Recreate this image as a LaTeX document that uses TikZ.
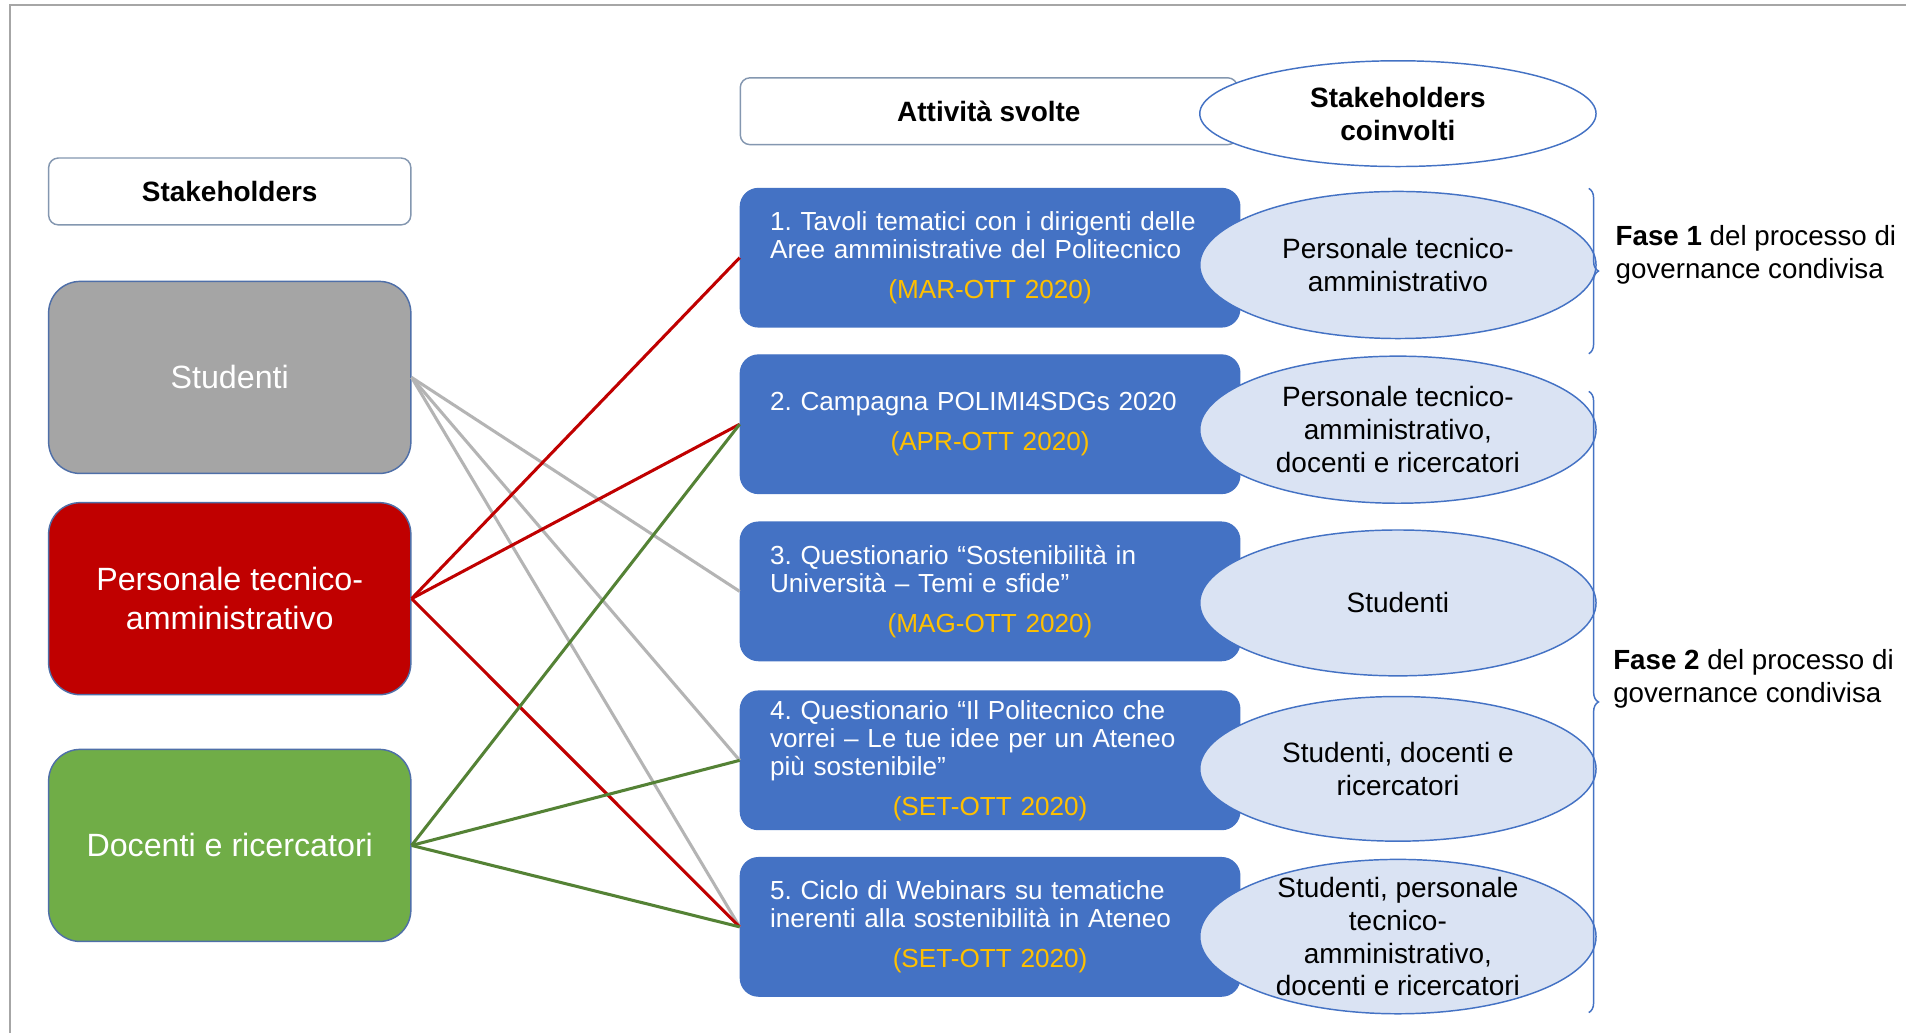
\documentclass[tikz,border=0pt]{standalone}
\usepackage{fontspec}
\setmainfont{Liberation Sans}
\usetikzlibrary{shapes.geometric,decorations.pathreplacing}
\frenchspacing
\definecolor{framec}{HTML}{A6A6A6}
\definecolor{hdrc}{HTML}{8497B0}
\definecolor{sbord}{HTML}{4F6FA8}
\definecolor{greyfill}{HTML}{A5A5A5}
\definecolor{redfill}{HTML}{C00000}
\definecolor{greenfill}{HTML}{70AD47}
\definecolor{boxblue}{HTML}{4472C4}
\definecolor{ellc}{HTML}{4472C4}
\definecolor{ellf}{HTML}{DAE3F3}
\definecolor{dategold}{HTML}{FFC000}
\definecolor{greyline}{HTML}{B4B4B4}
\definecolor{redline}{HTML}{C00000}
\definecolor{greenline}{HTML}{548235}
\begin{document}
\begin{tikzpicture}[x=1pt,y=-1pt,
  hdr/.style={draw=hdrc, line width=1.2pt, fill=white, rounded corners=8pt, inner sep=0pt,
    font=\bfseries\fontsize{23}{27}\selectfont},
  sbox/.style={draw=sbord, line width=1.2pt, rounded corners=26pt, minimum width=298pt,
    minimum height=158pt, inner sep=0pt, text=white, align=center,
    font=\fontsize{26.5}{32}\selectfont},
  abox/.style={fill=boxblue, draw=boxblue, line width=1pt, rounded corners=15pt,
    minimum width=411pt, minimum height=114pt, inner sep=0pt},
  atext/.style={text=white, text width=362pt, align=left, inner sep=0pt,
    font=\fontsize{21.5}{23}\selectfont},
  ellip/.style={ellipse, draw=ellc, fill=ellf, line width=1.2pt, minimum width=326pt,
    inner sep=0pt},
  etext/.style={align=center, inner sep=0pt, font=\fontsize{23}{27}\selectfont},
  ftext/.style={anchor=west, align=left, inner sep=0pt, font=\fontsize{22.8}{27}\selectfont},
  link/.style={line width=2.5pt},
  brc/.style={draw=ellc, line width=1.2pt, decorate, decoration={brace, amplitude=8pt}}
]
\useasboundingbox (0,0) rectangle (1568,850);
\fill[white] (0,0) rectangle (1568,850);
\draw[framec, line width=1.5pt] (8,850) -- (8,4) -- (1568,4);

% left column
\node[hdr, minimum width=298pt, minimum height=55pt] (sh) at (189,157.5) {Stakeholders};
\node[sbox, fill=greyfill] (stud) at (189,310.5) {Studenti};
\node[sbox, fill=redfill] (pers) at (189,492.5) {Personale tecnico-\\amministrativo};
\node[sbox, fill=greenfill] (doc) at (189,695.5) {Docenti e ricercatori};

% activity header
\node[hdr, minimum width=409pt, minimum height=55pt] (att) at (813.5,91.5) {Attività svolte};
\node[ellip, minimum height=87pt, fill=white, font=\bfseries\fontsize{23}{27}\selectfont, align=center] (sc) at (1150,93.5) {Stakeholders\\coinvolti};

% activity boxes
\node[abox] (b1) at (814.5,212) {};
\node[abox] (b2) at (814.5,349) {};
\node[abox] (b3) at (814.5,486.5) {};
\node[abox] (b4) at (814.5,625.5) {};
\node[abox] (b5) at (814.5,762.5) {};

\node[atext] (t1) at (b1.center) {1. Tavoli tematici con i dirigenti delle\\Aree amministrative del Politecnico\\[10pt]\makebox[362pt][c]{\textcolor{dategold}{(MAR-OTT 2020)}}};
\node[atext] (t2) at (b2.center) {2. Campagna POLIMI4SDGs 2020\\[10pt]\makebox[362pt][c]{\textcolor{dategold}{(APR-OTT 2020)}}};
\node[atext] (t3) at (b3.center) {3. Questionario “Sostenibilità in\\Università – Temi e sfide”\\[10pt]\makebox[362pt][c]{\textcolor{dategold}{(MAG-OTT 2020)}}};
\node[atext] (t4) at (b4.center) {4. Questionario “Il Politecnico che\\vorrei – Le tue idee per un Ateneo\\più sostenibile”\\[10pt]\makebox[362pt][c]{\textcolor{dategold}{(SET-OTT 2020)}}};
\node[atext] (t5) at (b5.center) {5. Ciclo di Webinars su tematiche\\inerenti alla sostenibilità in Ateneo\\[10pt]\makebox[362pt][c]{\textcolor{dategold}{(SET-OTT 2020)}}};

% stakeholder ellipses
\node[ellip, minimum height=121pt] (e1) at (1150,218) {};
\node[ellip, minimum height=121pt] (e2) at (1150,353.5) {};
\node[ellip, minimum height=120pt] (e3) at (1150,496) {};
\node[ellip, minimum height=119pt] (e4) at (1150,632.5) {};
\node[ellip, minimum height=127pt] (e5) at (1150,770.5) {};
\node[etext] (et1) at (e1.center) {Personale tecnico-\\amministrativo};
\node[etext] (et2) at (e2.center) {Personale tecnico-\\amministrativo,\\docenti e ricercatori};
\node[etext] (et3) at (e3.center) {Studenti};
\node[etext] (et4) at (e4.center) {Studenti, docenti e\\ricercatori};
\node[etext] (et5) at (e5.center) {Studenti, personale\\tecnico-\\amministrativo,\\docenti e ricercatori};

% connectors
\draw[link, greyline] (stud.east) -- (b3.west);
\draw[link, greyline] (stud.east) -- (b4.west);
\draw[link, greyline] (stud.east) -- (b5.west);
\draw[link, redline] (pers.east) -- (b1.west);
\draw[link, redline] (pers.east) -- (b2.west);
\draw[link, redline] (pers.east) -- (b5.west);
\draw[link, greenline] (doc.east) -- (b2.west);
\draw[link, greenline] (doc.east) -- (b4.west);
\draw[link, greenline] (doc.east) -- (b5.west);

% braces and phases
\coordinate (br1a) at (1307,155);
\coordinate (br1b) at (1307,291);
\coordinate (br2a) at (1307,322);
\coordinate (br2b) at (1307,833);
\draw[brc] (br1a) -- (br1b);
\draw[brc] (br2a) -- (br2b);
\node[ftext] (f1) at (1329,209.5) {\textbf{Fase 1} del processo di\\governance condivisa};
\node[ftext] (f2) at (1327,558.5) {\textbf{Fase 2} del processo di\\governance condivisa};
\end{tikzpicture}
\end{document}
